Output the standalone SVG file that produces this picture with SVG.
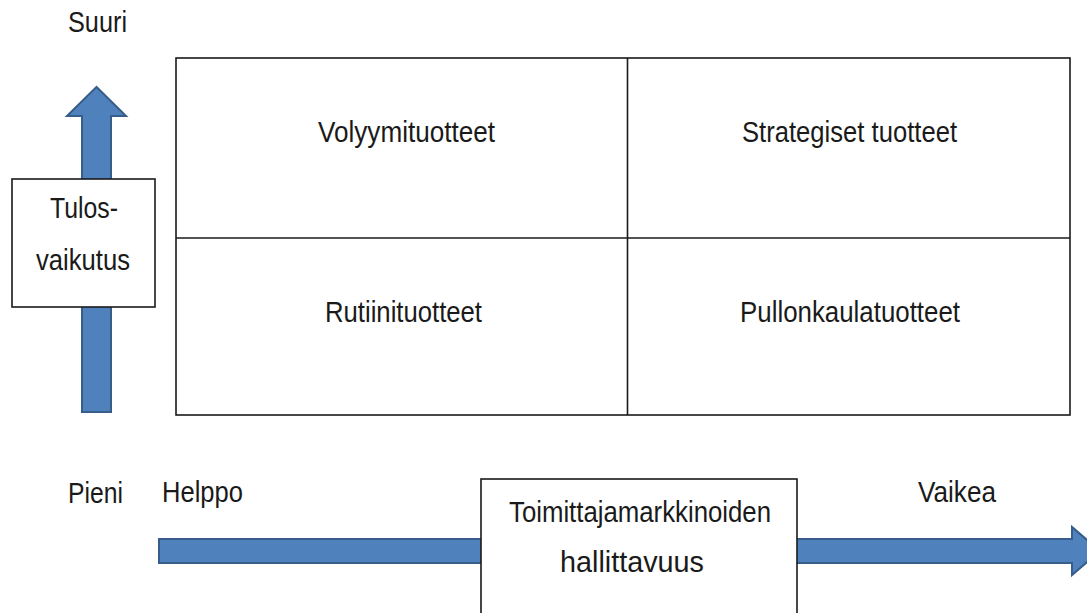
<svg xmlns="http://www.w3.org/2000/svg" width="1087" height="613" viewBox="0 0 1087 613">
  <style>
    .lbl { font-family: "Liberation Sans", Arial, sans-serif; font-size: 29px; fill: #1a1a1a; text-anchor: middle; }
    .box { fill: #ffffff; stroke: #1a1a1a; stroke-width: 1.6; }
    .arrow { fill: #4f81bd; stroke: #385d8a; stroke-width: 2; stroke-linejoin: miter; }
    .grid { fill: none; stroke: #1a1a1a; stroke-width: 1.6; }
  </style>
  <rect width="1087" height="613" fill="#ffffff"/>

  <!-- axis arrows -->
  <g id="connectors">
    <polygon class="arrow" points="96.5,87 67,116 82,116 82,412 111,412 111,116 126,116"/>
    <polygon class="arrow" points="159,539 1072,539 1072,527 1100,551 1072,575 1072,563 159,563"/>
  </g>

  <!-- 2x2 matrix -->
  <g id="matrix">
    <rect class="grid" x="176" y="58" width="894" height="357"/>
    <line class="grid" x1="627.5" y1="58" x2="627.5" y2="415"/>
    <line class="grid" x1="176" y1="238" x2="1070" y2="238"/>
  </g>
  <g id="q-volyymi">
    <text class="lbl" x="406.5" y="142" textLength="177" lengthAdjust="spacingAndGlyphs">Volyymituotteet</text>
  </g>
  <g id="q-strategiset">
    <text class="lbl" x="849.5" y="142" textLength="215" lengthAdjust="spacingAndGlyphs">Strategiset tuotteet</text>
  </g>
  <g id="q-rutiini">
    <text class="lbl" x="403.5" y="322" textLength="157" lengthAdjust="spacingAndGlyphs">Rutiinituotteet</text>
  </g>
  <g id="q-pullonkaula">
    <text class="lbl" x="850" y="322" textLength="220" lengthAdjust="spacingAndGlyphs">Pullonkaulatuotteet</text>
  </g>

  <!-- vertical axis -->
  <g id="y-high">
    <text class="lbl" x="97.5" y="32" textLength="59" lengthAdjust="spacingAndGlyphs">Suuri</text>
  </g>
  <g id="y-axis-label">
    <rect class="box" x="12" y="179" width="143" height="128"/>
    <text class="lbl" x="84" y="218" textLength="68" lengthAdjust="spacingAndGlyphs">Tulos-</text>
    <text class="lbl" x="83" y="270" textLength="94" lengthAdjust="spacingAndGlyphs">vaikutus</text>
  </g>
  <g id="y-low">
    <text class="lbl" x="95.5" y="503" textLength="55" lengthAdjust="spacingAndGlyphs">Pieni</text>
  </g>

  <!-- horizontal axis -->
  <g id="x-low">
    <text class="lbl" x="202.5" y="502" textLength="81" lengthAdjust="spacingAndGlyphs">Helppo</text>
  </g>
  <g id="x-axis-label">
    <rect class="box" x="481" y="479" width="316" height="150"/>
    <text class="lbl" x="640" y="522" textLength="262" lengthAdjust="spacingAndGlyphs">Toimittajamarkkinoiden</text>
    <text class="lbl" x="632" y="572" textLength="144" lengthAdjust="spacingAndGlyphs">hallittavuus</text>
  </g>
  <g id="x-high">
    <text class="lbl" x="957" y="502" textLength="78" lengthAdjust="spacingAndGlyphs">Vaikea</text>
  </g>
</svg>
